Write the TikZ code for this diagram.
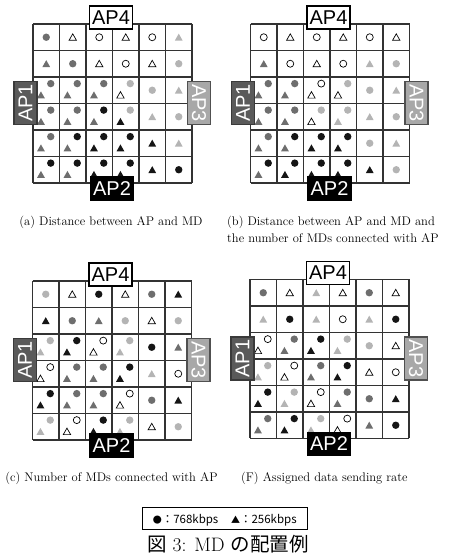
\documentclass[tikz,border=0pt]{standalone}
\usepackage{fontspec}
\newfontfamily\jpfont{Noto Sans CJK JP}
\newfontfamily\apfont{Liberation Sans}
\definecolor{mdk}{HTML}{151515}
\definecolor{mdd}{HTML}{6E6E6E}
\definecolor{mdl}{HTML}{B4B4B4}
\definecolor{gridc}{HTML}{333333}
\definecolor{apAfill}{HTML}{5A5A5A}
\definecolor{apAline}{HTML}{3A3A3A}
\definecolor{apCfill}{HTML}{A8A8A8}
\definecolor{apCline}{HTML}{505050}
\def\mdcs{26.5}
\tikzset{
  mdgridl/.style={draw=gridc, line width=1.2pt},
  apbox/.style={rectangle, line width=1.7pt, minimum width=43pt, minimum height=23pt, inner sep=0pt,
    font=\apfont\fontsize{20}{20}\selectfont},
  capt/.style={inner sep=0pt, font=\fontsize{12.5}{15}\selectfont},
  pics/mdCk/.style={code={\fill[mdk] (0,0) circle (3.7);}},
  pics/mdCd/.style={code={\fill[mdd] (0,0) circle (3.7);}},
  pics/mdCl/.style={code={\fill[mdl] (0,0) circle (3.7);}},
  pics/mdCo/.style={code={\draw[line width=0.7pt, fill=white] (0,0) circle (3.5);}},
  pics/mdTk/.style={code={\fill[mdk] (-3.9,-3.3) -- (3.9,-3.3) -- (0,3.6) -- cycle;}},
  pics/mdTd/.style={code={\fill[mdd] (-3.9,-3.3) -- (3.9,-3.3) -- (0,3.6) -- cycle;}},
  pics/mdTl/.style={code={\fill[mdl] (-3.9,-3.3) -- (3.9,-3.3) -- (0,3.6) -- cycle;}},
  pics/mdTo/.style={code={\draw[line width=0.7pt, line join=miter, fill=white] (-3.7,-3.1) -- (3.7,-3.1) -- (0,3.4) -- cycle;}},
}
\newcommand\mdS[3]{\path ({(#2-0.5)*\mdcs},{-(#1-0.5)*\mdcs}) pic {md#3};}
\newcommand\mdP[4]{%
  \path ({(#2-0.5)*\mdcs-0.2*\mdcs},{-(#1-0.5)*\mdcs-0.18*\mdcs}) pic {mdT#3};
  \path ({(#2-0.5)*\mdcs+0.17*\mdcs},{-(#1-0.5)*\mdcs+0.25*\mdcs}) pic {mdC#4};}
\newcommand\mdgrid{\foreach \i in {0,...,6}{%
  \draw[mdgridl] ({\i*\mdcs},0) -- ({\i*\mdcs},{-6*\mdcs});
  \draw[mdgridl] (0,{-\i*\mdcs}) -- ({6*\mdcs},{-\i*\mdcs});}}
\newcommand\mdaps[1]{%
  \node[apbox, fill=white, draw=black, text=black] (#1ap4) at (78,6.5) {AP4};
  \node[apbox, fill=apAfill, draw=apAline, text=white, rotate=90] (#1ap1) at (-7.5,-79) {AP1};
  \node[apbox, fill=apCfill, draw=apCline, text=white, rotate=-90] (#1ap3) at (166,-79) {AP3};
  \node[apbox, fill=black, draw=black, text=white] (#1ap2) at (79,-164.5) {AP2};}
\begin{document}
\begin{tikzpicture}[x=1pt,y=1pt]
\useasboundingbox (0,0) rectangle (459,556);
% ---------- (a)
\begin{scope}[shift={(33,532)}]
\mdgrid
\mdS{1}{1}{Cd}\mdS{1}{2}{To}\mdS{1}{3}{Co}\mdS{1}{4}{To}\mdS{1}{5}{Co}\mdS{1}{6}{Tl}
\mdS{2}{1}{Td}\mdS{2}{2}{Cd}\mdS{2}{3}{To}\mdS{2}{4}{Co}\mdS{2}{5}{To}\mdS{2}{6}{Cl}
\mdP{3}{1}{d}{d}\mdP{3}{2}{d}{d}\mdP{3}{3}{d}{d}\mdP{3}{4}{o}{l}\mdS{3}{5}{Cl}\mdS{3}{6}{Tl}
\mdP{4}{1}{d}{d}\mdP{4}{2}{d}{d}\mdP{4}{3}{d}{k}\mdP{4}{4}{k}{l}\mdS{4}{5}{Tl}\mdS{4}{6}{Cl}
\mdP{5}{1}{d}{d}\mdP{5}{2}{d}{k}\mdP{5}{3}{k}{k}\mdP{5}{4}{k}{k}\mdS{5}{5}{Tk}\mdS{5}{6}{Tl}
\mdP{6}{1}{d}{k}\mdP{6}{2}{d}{k}\mdP{6}{3}{k}{k}\mdP{6}{4}{k}{k}\mdS{6}{5}{Tk}\mdS{6}{6}{Ck}
\mdaps{a}
\end{scope}
% ---------- (b)
\begin{scope}[shift={(250.5,532)}]
\mdgrid
\mdS{1}{1}{Co}\mdS{1}{2}{To}\mdS{1}{3}{Co}\mdS{1}{4}{To}\mdS{1}{5}{Co}\mdS{1}{6}{To}
\mdS{2}{1}{Td}\mdS{2}{2}{Co}\mdS{2}{3}{To}\mdS{2}{4}{Co}\mdS{2}{5}{Tl}\mdS{2}{6}{Cl}
\mdP{3}{1}{d}{d}\mdP{3}{2}{d}{d}\mdP{3}{3}{o}{o}\mdP{3}{4}{o}{l}\mdS{3}{5}{Cl}\mdS{3}{6}{Tl}
\mdP{4}{1}{d}{d}\mdP{4}{2}{d}{d}\mdP{4}{3}{o}{l}\mdP{4}{4}{l}{l}\mdS{4}{5}{Tl}\mdS{4}{6}{Cl}
\mdP{5}{1}{d}{d}\mdP{5}{2}{d}{k}\mdP{5}{3}{k}{k}\mdP{5}{4}{k}{k}\mdS{5}{5}{Cl}\mdS{5}{6}{Tl}
\mdP{6}{1}{d}{k}\mdP{6}{2}{k}{k}\mdP{6}{3}{k}{k}\mdP{6}{4}{k}{k}\mdS{6}{5}{Tk}\mdS{6}{6}{Cl}
\mdaps{b}
\end{scope}
% ---------- (c)
\begin{scope}[shift={(32.5,275)}]
\mdgrid
\mdS{1}{1}{Cl}\mdS{1}{2}{To}\mdS{1}{3}{Ck}\mdS{1}{4}{To}\mdS{1}{5}{Cd}\mdS{1}{6}{Tk}
\mdS{2}{1}{Tk}\mdS{2}{2}{Cd}\mdS{2}{3}{Td}\mdS{2}{4}{Cl}\mdS{2}{5}{To}\mdS{2}{6}{Cl}
\mdP{3}{1}{l}{l}\mdP{3}{2}{k}{k}\mdP{3}{3}{o}{o}\mdP{3}{4}{l}{l}\mdS{3}{5}{Ck}\mdS{3}{6}{Td}
\mdP{4}{1}{o}{o}\mdP{4}{2}{d}{d}\mdP{4}{3}{d}{d}\mdP{4}{4}{k}{k}\mdS{4}{5}{Tl}\mdS{4}{6}{Co}
\mdP{5}{1}{k}{k}\mdP{5}{2}{d}{d}\mdP{5}{3}{d}{d}\mdP{5}{4}{o}{o}\mdS{5}{5}{Cd}\mdS{5}{6}{Tk}
\mdP{6}{1}{l}{l}\mdP{6}{2}{o}{o}\mdP{6}{3}{k}{k}\mdP{6}{4}{l}{l}\mdS{6}{5}{To}\mdS{6}{6}{Cl}
\mdaps{c}
\end{scope}
% ---------- (d)
\begin{scope}[shift={(250,276.5)}]
\mdgrid
\mdS{1}{1}{Cd}\mdS{1}{2}{To}\mdS{1}{3}{Tl}\mdS{1}{4}{To}\mdS{1}{5}{Cd}\mdS{1}{6}{To}
\mdS{2}{1}{Tl}\mdS{2}{2}{Ck}\mdS{2}{3}{Tl}\mdS{2}{4}{Co}\mdS{2}{5}{Tl}\mdS{2}{6}{Ck}
\mdP{3}{1}{o}{o}\mdP{3}{2}{d}{d}\mdP{3}{3}{k}{k}\mdP{3}{4}{l}{l}\mdS{3}{5}{Cl}\mdS{3}{6}{To}
\mdP{4}{1}{l}{l}\mdP{4}{2}{o}{o}\mdP{4}{3}{d}{d}\mdP{4}{4}{k}{k}\mdS{4}{5}{To}\mdS{4}{6}{Co}
\mdP{5}{1}{k}{k}\mdP{5}{2}{l}{l}\mdP{5}{3}{o}{o}\mdP{5}{4}{d}{d}\mdS{5}{5}{Cd}\mdS{5}{6}{Tk}
\mdP{6}{1}{d}{d}\mdP{6}{2}{k}{k}\mdP{6}{3}{l}{l}\mdP{6}{4}{o}{o}\mdS{6}{5}{Td}\mdS{6}{6}{Ck}
\mdaps{d}
\end{scope}
% ---------- captions
\node[capt, anchor=base] (capa) at (111,330) {(a) Distance between AP and MD};
\node[capt, anchor=base west] (capb1) at (227,330) {(b) Distance between AP and MD and};
\node[capt, anchor=base west] (capb2) at (227,313) {the number of MDs connected with AP};
\node[capt, anchor=base] (capc) at (111.5,74) {(c) Number of MDs connected with AP};
\node[capt, anchor=base west] (capd) at (241,74) {(F) Assigned data sending rate};
% ---------- legend
\node[draw=black, line width=0.8pt, minimum width=165pt, minimum height=22pt, inner sep=0pt] (legend) at (224.5,37.7) {};
\node[inner sep=0pt, anchor=base, font=\jpfont\fontsize{11.5}{12}\selectfont] (legtext) at (224.7,32)
  {{\fontsize{9}{9}\selectfont ●}：768kbps\hspace{1.1em}{\fontsize{9}{9}\selectfont ▲}：256kbps};
% ---------- figure caption
\node[inner sep=0pt, anchor=base west, font=\fontsize{19.5}{20}\selectfont] (figcap) at (147,4.3) {{\jpfont 図} 3: MD {\jpfont の配置例}};
\end{tikzpicture}
\end{document}
